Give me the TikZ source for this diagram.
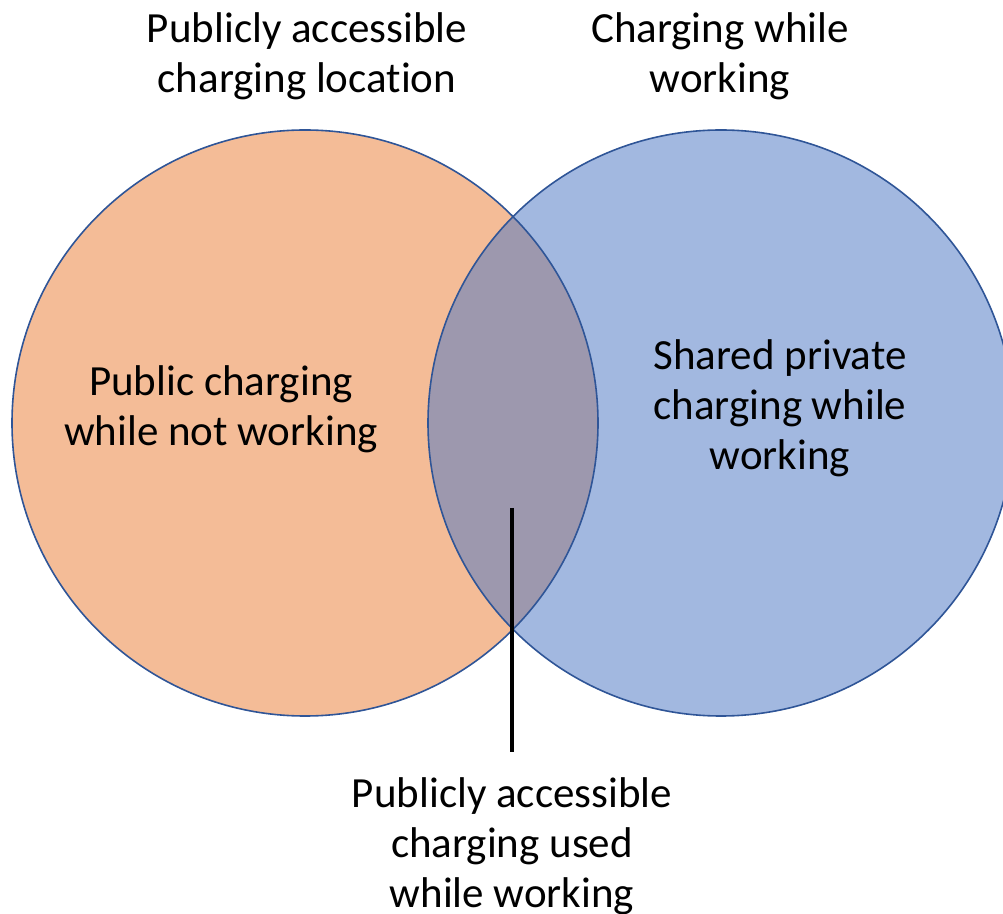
\documentclass[tikz,border=0pt]{standalone}
\usepackage{fontspec}
\setmainfont{Carlito}[Ligatures=NoCommon]
\usepackage{tikz}
\usetikzlibrary{positioning}
\definecolor{pubfill}{HTML}{F4BC97}
\definecolor{workfill}{HTML}{A2B8E0}
\definecolor{bothfill}{HTML}{9D98AE}
\definecolor{ringcol}{HTML}{2F5597}
\tikzset{x=1pt,y=1pt,
        ring/.style={draw=ringcol,line width=1.6pt},
        lbl/.style={align=center,inner sep=0pt,font=\fontsize{43}{50}\selectfont}
        }

\begin{document}
\begin{tikzpicture}
    % canvas of the reference size
    \useasboundingbox (0,0) rectangle (1003,913);
    % the two centres
    \coordinate (P) at (305,490);
    \coordinate (W) at (721,490);
    % fills of the two sets and of their overlap
    \fill[pubfill] (P) circle (293);
    \fill[workfill] (W) circle (293);
    \begin{scope}
        \clip (P) circle (293);
        \fill[bothfill] (W) circle (293);
    \end{scope}
    % outlines
    \draw[ring] (P) circle (293);
    \draw[ring] (W) circle (293);
    % set titles above the circles
    \node[lbl] (ptitle) at (307,857) {Publicly accessible\\charging location};
    \node[lbl] (wtitle) at (720,857) {Charging while\\working};
    % texts inside the circles
    \node[lbl] (ponly) at (221,504) {Public charging\\while not working};
    \node[lbl] (wonly) at (780,505) {Shared private\\charging while\\working};
    % the overlap, with its pointer line
    \node[lbl] (both) at (512,67) {Publicly accessible\\charging used\\while working};
    \coordinate (tip) at (512,405);
    \draw[line width=4pt] (tip) -- (tip |- 0,161);
\end{tikzpicture}
\end{document}
